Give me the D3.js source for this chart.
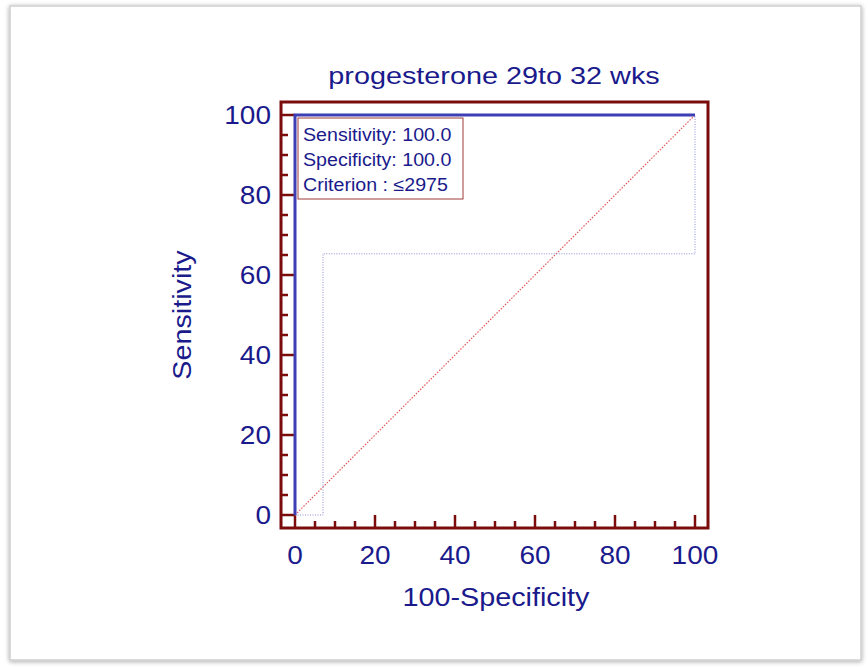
<!DOCTYPE html>
<html>
<head>
<meta charset="utf-8">
<script src="https://cdn.jsdelivr.net/npm/d3@7/dist/d3.min.js"></script>
<style>
  html, body { margin: 0; padding: 0; background: #fff; }
  svg { display: block; }
  text { font-family: "Liberation Sans", Arial, sans-serif; fill: #1a1a8c; }
</style>
</head>
<body>
<svg id="chart" width="868" height="667"></svg>
<script>
// ROC curve (empirical) and lower confidence bound, in percent
const rocFpr = [0, 0, 100];
const rocTpr = [0, 100, 100];
const lowerFpr = [0, 7, 7, 100, 100];
const lowerTpr = [0, 0, 65.3, 65.3, 100];
const diagonal = [0, 100];

const xTickLabels = [0, 20, 40, 60, 80, 100];
const yTickLabels = [0, 20, 40, 60, 80, 100];
const minorStep = 5;

const chartTitle = "progesterone 29to 32 wks";
const xTitle = "100-Specificity";
const yTitle = "Sensitivity";
const legendLines = ["Sensitivity: 100.0", "Specificity: 100.0", "Criterion : \u22642975"];

const maroon = "#7a0c0c";
const svg = d3.select("#chart");

// page frame with a soft shadow
const defs = svg.append("defs");
const f = defs.append("filter").attr("id", "shadow").attr("x", "-5%").attr("y", "-5%").attr("width", "110%").attr("height", "110%");
f.append("feGaussianBlur").attr("in", "SourceAlpha").attr("stdDeviation", 2.5).attr("result", "b");
f.append("feOffset").attr("in", "b").attr("dx", 0).attr("dy", 1).attr("result", "o");
f.append("feComponentTransfer").attr("in", "o").attr("result", "s")
  .append("feFuncA").attr("type", "linear").attr("slope", 0.35);
const fm = f.append("feMerge");
fm.append("feMergeNode").attr("in", "s");
fm.append("feMergeNode").attr("in", "SourceGraphic");

svg.append("rect").attr("x", 10).attr("y", 6).attr("width", 851).attr("height", 654)
  .attr("fill", "#fff").attr("stroke", "#cfcfcf").attr("stroke-width", 1.5)
  .attr("filter", "url(#shadow)");

const x = d3.scaleLinear().domain([0, 100]).range([295, 695]);
const y = d3.scaleLinear().domain([0, 100]).range([515, 115]);

// horizontally widened text helper
function stretch(sel, k) {
  sel.each(function () {
    const len = this.getComputedTextLength();
    d3.select(this).attr("textLength", len * k).attr("lengthAdjust", "spacingAndGlyphs");
  });
  return sel;
}

// plot frame
const fx0 = x(0) - 14, fx1 = x(100) + 13, fy0 = y(100) - 13, fy1 = y(0) + 13;
svg.append("rect").attr("x", fx0).attr("y", fy0).attr("width", fx1 - fx0).attr("height", fy1 - fy0)
  .attr("fill", "none").attr("stroke", maroon).attr("stroke-width", 3);

// ticks every 5 units, longer at labelled values
const ticks = d3.range(0, 100 + minorStep, minorStep);
svg.append("g").selectAll("line").data(ticks).join("line")
  .attr("x1", d => x(d)).attr("x2", d => x(d))
  .attr("y1", fy1).attr("y2", d => fy1 - (xTickLabels.includes(d) ? 13 : 7))
  .attr("stroke", maroon).attr("stroke-width", 2.5);
svg.append("g").selectAll("line").data(ticks).join("line")
  .attr("y1", d => y(d)).attr("y2", d => y(d))
  .attr("x1", fx0).attr("x2", d => fx0 + (yTickLabels.includes(d) ? 14 : 7))
  .attr("stroke", maroon).attr("stroke-width", 2.5);

// tick labels
stretch(svg.append("g").selectAll("text").data(xTickLabels).join("text")
  .attr("x", d => x(d)).attr("y", 564).attr("text-anchor", "middle")
  .attr("font-size", 25).text(d => d), 1.12);
stretch(svg.append("g").selectAll("text").data(yTickLabels).join("text")
  .attr("x", 271).attr("y", d => y(d) + 9).attr("text-anchor", "end")
  .attr("font-size", 25).text(d => d), 1.12);

// titles
stretch(svg.append("text").attr("x", 494).attr("y", 84).attr("text-anchor", "middle")
  .attr("font-size", 24).text(chartTitle), 1.2);
stretch(svg.append("text").attr("x", 496).attr("y", 606).attr("text-anchor", "middle")
  .attr("font-size", 25).text(xTitle), 1.15);
stretch(svg.append("text").attr("transform", `translate(191,${(y(0) + y(100)) / 2}) rotate(-90)`)
  .attr("text-anchor", "middle").attr("font-size", 25).text(yTitle), 1.15);

// diagonal reference line
svg.append("line").attr("x1", x(diagonal[0])).attr("y1", y(diagonal[0]))
  .attr("x2", x(diagonal[1])).attr("y2", y(diagonal[1]))
  .attr("stroke", "#e03a3a").attr("stroke-width", 1.2).attr("stroke-dasharray", "1.5,1.5")
  .attr("stroke-opacity", 0.85);

// lower confidence bound
const line = d3.line().x(d => x(d[0])).y(d => y(d[1]));
svg.append("path").attr("d", line(d3.zip(lowerFpr, lowerTpr)))
  .attr("fill", "none").attr("stroke", "#8c8cd8").attr("stroke-width", 1).attr("stroke-dasharray", "1,1.5");

// ROC curve
svg.append("path").attr("d", line(d3.zip(rocFpr, rocTpr)))
  .attr("fill", "none").attr("stroke", "#3d3db4").attr("stroke-width", 3);

// legend box
const lg = svg.append("g");
lg.append("rect").attr("x", 298).attr("y", 118).attr("width", 165).attr("height", 81)
  .attr("fill", "#fff").attr("stroke", "#a03a3a").attr("stroke-width", 1);
stretch(lg.selectAll("text").data(legendLines).join("text")
  .attr("x", 303).attr("y", (d, i) => 141 + i * 25)
  .attr("font-size", 18).text(d => d), 1.09);
</script>
</body>
</html>
